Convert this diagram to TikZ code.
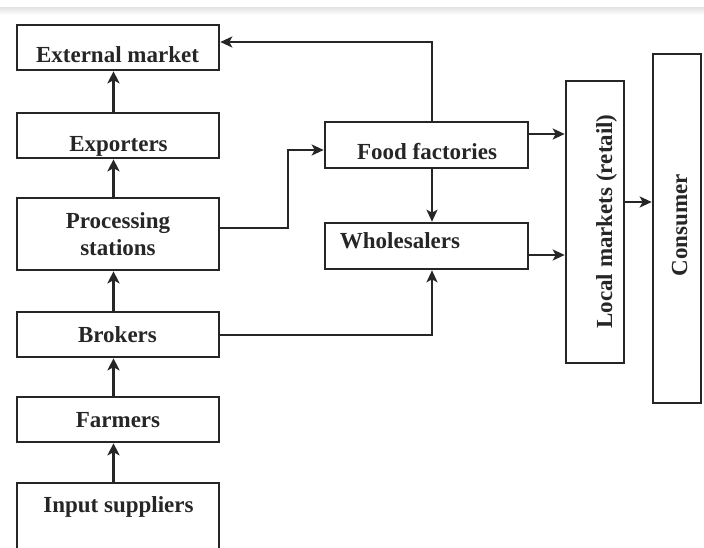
\documentclass[tikz,border=0pt]{standalone}
\usepackage{fontspec}
\setmainfont{Liberation Serif}
\usetikzlibrary{arrows.meta}
\begin{document}
\begin{tikzpicture}[x=1pt,y=-1pt,
  box/.style={draw=black!85, line width=2.6pt, inner sep=0pt, fill=none},
  txt/.style={font=\bfseries\fontsize{23}{27}\selectfont, text=black!85, inner sep=0pt},
  varr/.style={draw=black!85, line width=3pt, -{Stealth[length=12pt,width=12pt,inset=3pt]}},
  arr/.style={draw=black!85, line width=2.1pt, -{Stealth[length=12pt,width=11pt,inset=3pt]}}]
\useasboundingbox (0,0) rectangle (704,548);
\clip (0,0) rectangle (704,548);
\shade[top color=black!10, bottom color=white] (0,8) rectangle (704,15);

% left column boxes
\node[box, minimum width=202pt, minimum height=45pt] (ext)  at (118,47.5) {};
\node[box, minimum width=202pt, minimum height=45pt] (exp)  at (118,135.5) {};
\node[box, minimum width=202pt, minimum height=72pt] (proc) at (118,234) {};
\node[box, minimum width=202pt, minimum height=45pt] (brok) at (118,334.5) {};
\node[box, minimum width=202pt, minimum height=45pt] (farm) at (118,419.5) {};
\node[box, minimum width=202pt, minimum height=80pt] (inp)  at (118,523) {};

% middle boxes
\node[box, minimum width=203pt, minimum height=46pt] (food) at (426.5,145) {};
\node[box, minimum width=203pt, minimum height=46pt] (whol) at (426.5,246) {};

% right boxes
\node[box, minimum width=58pt, minimum height=282pt] (local) at (595,222) {};
\node[box, minimum width=48pt, minimum height=349pt] (cons)  at (677,228.5) {};

% texts
\node[txt, anchor=base] (extT)  at (117.5,63) {External market};
\node[txt, anchor=base] (expT)  at (118.5,152) {Exporters};
\node[txt, align=center] (procT) at (118,234) {Processing\\stations};
\node[txt, anchor=base] (brokT) at (117.5,342) {Brokers};
\node[txt, anchor=base] (farmT) at (118,427) {Farmers};
\node[txt, anchor=base] (inpT)  at (118.5,512) {Input suppliers};
\node[txt, anchor=base] (foodT) at (427,160) {Food factories};
\node[txt, anchor=base] (wholT) at (400,248) {Wholesalers};
\node[txt, anchor=base, rotate=90] (localT) at (612,221.5) {Local markets (retail)};
\node[txt, anchor=base, rotate=90] (consT)  at (687,225) {Consumer};

% vertical chain
\draw[varr] ([xshift=-4.5pt]inp.north)  -- ([xshift=-4.5pt]farm.south);
\draw[varr] ([xshift=-4.5pt]farm.north) -- ([xshift=-4.5pt]brok.south);
\draw[varr] ([xshift=-4.5pt]brok.north) -- ([xshift=-4.5pt]proc.south);
\draw[varr] ([xshift=-4.5pt]proc.north) -- ([xshift=-4.5pt]exp.south);
\draw[varr] ([xshift=-4.5pt]exp.north)  -- ([xshift=-4.5pt]ext.south);

% other connectors
\draw[arr] ([xshift=5.5pt]food.north) |- ([yshift=5.5pt]ext.east);
\draw[arr] ([xshift=5.5pt]food.south) -- ([xshift=5.5pt]whol.north);
\draw[arr] ([yshift=6pt]proc.east) -- ++(68,0) |- ([yshift=-5pt]food.west);
\draw[arr] ([yshift=-0.5pt]brok.east) -| ([xshift=5.5pt]whol.south);

\coordinate (f1) at ([yshift=11pt]food.east);
\coordinate (w1) at ([yshift=-9pt]whol.east);
\coordinate (l1) at ([yshift=20pt]local.east);
\draw[arr] (f1) -- (f1 -| local.west);
\draw[arr] (w1) -- (w1 -| local.west);
\draw[arr] (l1) -- (l1 -| cons.west);
\end{tikzpicture}
\end{document}
